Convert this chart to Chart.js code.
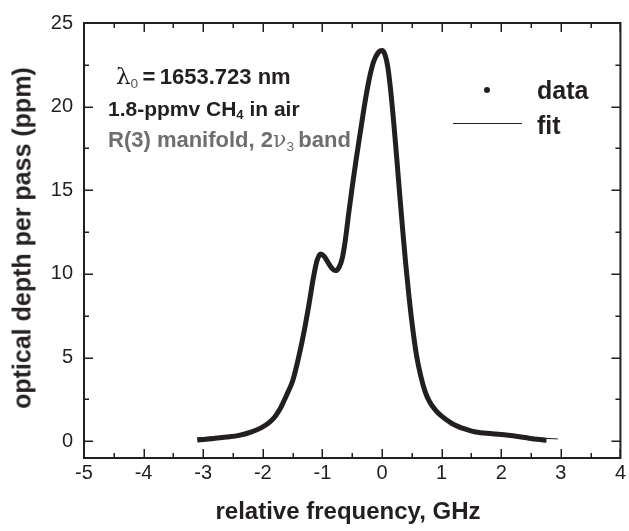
<!DOCTYPE html>
<html>
<head>
<meta charset="utf-8">
<script src="https://cdn.jsdelivr.net/npm/chart.js@4/dist/chart.umd.min.js"></script>
<style>
  html, body { margin:0; padding:0; background:#fff; }
  #wrap { position:relative; width:629px; height:531px; overflow:hidden; font-family:"Liberation Sans", Arial, sans-serif; color:#231f20; }
  #c { position:absolute; left:0; top:0; }
  .t { position:absolute; white-space:nowrap; transform:translateY(-50%); line-height:1; }
  .b { font-weight:bold; }
  sub { font-size:0.62em; vertical-align:-0.3em; line-height:0; }
</style>
</head>
<body>
<div id="wrap">
  <canvas id="c" width="629" height="531"></canvas>
  <div class="t b" style="left:22px;top:238px;font-size:25px;transform:translate(-50%,-50%) rotate(-90deg);">optical depth per pass (ppm)</div>
  <div class="t b" style="left:348px;top:511px;font-size:24px;transform:translate(-50%,-50%);">relative frequency, GHz</div>

  <div class="t" style="left:116px;top:76px;font-size:22px;"><span style="font-family:'DejaVu Serif',serif;font-weight:normal;font-size:23px;">&lambda;</span><sub style="font-weight:normal;color:#555;">0</sub><span class="b">&thinsp;=&thinsp;1653.723 nm</span></div>
  <div class="t b" style="left:108px;top:108px;font-size:21px;">1.8-ppmv CH<sub>4</sub> in air</div>
  <div class="t b" style="left:108px;top:140px;font-size:22px;color:#6d6e70;">R(3) manifold, 2<span style="font-family:'DejaVu Serif',serif;font-weight:normal;">&nu;</span><sub style="font-weight:normal;">3</sub>&thinsp;band</div>

  <div style="position:absolute;left:484px;top:87px;width:6px;height:6px;border-radius:3px;background:#231f20;"></div>
  <div class="t b" style="left:537px;top:90px;font-size:25px;">data</div>
  <div style="position:absolute;left:453px;top:123px;width:69px;height:1px;background:#231f20;"></div>
  <div class="t b" style="left:537px;top:125px;font-size:25px;">fit</div>
</div>
<script>
// ---- data ----
const dataFreq = [-3.10,-2.95,-2.80,-2.60,-2.40,-2.20,-2.03,-1.90,-1.80,-1.70,-1.64,-1.57,-1.50,-1.40,-1.30,-1.22,-1.15,-1.09,-1.03,-0.97,-0.90,-0.83,-0.78,-0.72,-0.67,-0.62,-0.56,-0.50,-0.44,-0.38,-0.32,-0.26,-0.20,-0.14,-0.07,0.00,0.05,0.10,0.15,0.20,0.25,0.30,0.35,0.40,0.46,0.52,0.58,0.65,0.72,0.80,0.90,1.00,1.18,1.40,1.57,1.85,2.12,2.40,2.60,2.76];
const dataOD   = [0.08,0.12,0.18,0.25,0.35,0.55,0.80,1.10,1.45,2.00,2.45,3.00,3.60,5.00,6.70,8.30,9.80,10.80,11.20,11.05,10.65,10.30,10.20,10.40,10.90,11.90,13.60,15.20,16.70,18.10,19.50,20.80,21.90,22.70,23.20,23.35,23.10,22.30,20.80,18.90,16.80,14.60,12.50,10.50,8.40,6.60,5.10,3.90,3.00,2.35,1.85,1.50,1.05,0.72,0.55,0.45,0.36,0.22,0.12,0.06];

const fitFreq = [-3.10,-2.80,-2.60,-2.40,-2.20,-2.03,-1.90,-1.80,-1.70,-1.64,-1.57,-1.50,-1.40,-1.30,-1.22,-1.15,-1.09,-1.03,-0.97,-0.90,-0.83,-0.78,-0.72,-0.67,-0.62,-0.56,-0.50,-0.44,-0.38,-0.32,-0.26,-0.20,-0.14,-0.07,0.00,0.05,0.10,0.15,0.20,0.25,0.30,0.35,0.40,0.46,0.52,0.58,0.65,0.72,0.80,0.90,1.00,1.18,1.40,1.57,1.85,2.12,2.40,2.76,2.95];
const fitOD   = [0.20,0.27,0.32,0.42,0.60,0.85,1.12,1.46,2.00,2.45,3.00,3.60,5.00,6.70,8.30,9.80,10.80,11.20,11.05,10.65,10.30,10.20,10.40,10.90,11.90,13.60,15.20,16.70,18.10,19.50,20.80,21.90,22.70,23.20,23.35,23.10,22.30,20.80,18.90,16.80,14.60,12.50,10.50,8.40,6.60,5.10,3.90,3.00,2.35,1.85,1.50,1.05,0.72,0.56,0.46,0.38,0.28,0.17,0.14];

const xTicks = [-5,-4,-3,-2,-1,0,1,2,3,4];
const xMinor = [-4.5,-3.5,-2.5,-1.5,-0.5,0.5,1.5,2.5,3.5];
const yTicks = [0,5,10,15,20,25];
const yMinor = [2.5,7.5,12.5,17.5,22.5];

const ink = '#231f20';

const framePlugin = {
  id:'frame',
  afterDraw(chart){
    const {ctx, chartArea:a, scales:{x,y}} = chart;
    ctx.save();
    ctx.strokeStyle = ink;
    ctx.lineWidth = 1.5;
    ctx.beginPath();
    const tick = (v, len, axis) => {
      if (axis==='x'){
        const px = Math.round(x.getPixelForValue(v))+0.25;
        ctx.moveTo(px, a.bottom); ctx.lineTo(px, a.bottom-len);
        ctx.moveTo(px, a.top); ctx.lineTo(px, a.top+len);
      } else {
        const py = Math.round(y.getPixelForValue(v))+0.25;
        ctx.moveTo(a.left, py); ctx.lineTo(a.left+len, py);
        ctx.moveTo(a.right, py); ctx.lineTo(a.right-len, py);
      }
    };
    xTicks.forEach(v=>tick(v,9,'x'));
    xMinor.forEach(v=>tick(v,5,'x'));
    yTicks.forEach(v=>tick(v,9,'y'));
    yMinor.forEach(v=>tick(v,5,'y'));
    ctx.stroke();
    ctx.lineWidth = 2;
    ctx.strokeRect(a.left, a.top, a.right-a.left, a.bottom-a.top);
    ctx.restore();
  }
};

new Chart(document.getElementById('c'), {
  type:'scatter',
  data:{
    datasets:[
      { label:'data', data:dataFreq.map((f,i)=>({x:f,y:dataOD[i]})), showLine:true, borderColor:ink, borderWidth:5, pointRadius:0, cubicInterpolationMode:'monotone', order:2 },
      { label:'fit', data:fitFreq.map((f,i)=>({x:f,y:fitOD[i]})), showLine:true, borderColor:ink, borderWidth:1, pointRadius:0, cubicInterpolationMode:'monotone', order:1 }
    ]
  },
  options:{
    responsive:false, animation:false, devicePixelRatio:1,
    layout:{ padding:{ left:0, right:2, top:19, bottom:0 } },
    plugins:{ legend:{display:false}, tooltip:{enabled:false} },
    scales:{
      x:{ type:'linear', min:-5, max:4,
          afterBuildTicks:s=>{ s.ticks = xTicks.map(v=>({value:v})); },
          afterFit:s=>{ s.height = 73; },
          grid:{ display:false, drawTicks:false }, border:{display:false},
          ticks:{ color:ink, padding:3, maxRotation:0, autoSkip:false, font:{family:'Liberation Sans', size:20} } },
      y:{ type:'linear', min:-1, max:25,
          afterBuildTicks:s=>{ s.ticks = yTicks.map(v=>({value:v})); },
          afterFit:s=>{ s.width = 84; },
          grid:{ display:false, drawTicks:false }, border:{display:false},
          ticks:{ color:ink, padding:11, font:{family:'Liberation Sans', size:20} } }
    }
  },
  plugins:[framePlugin]
});
</script>
</body>
</html>
